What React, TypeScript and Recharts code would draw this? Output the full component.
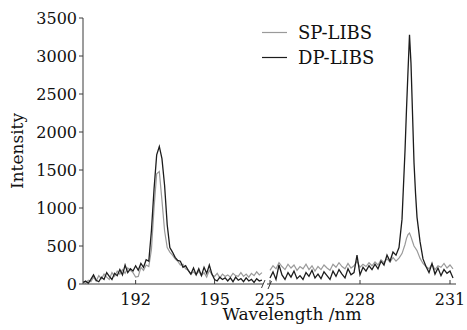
import { LineChart, Line, XAxis, YAxis, Legend, Label } from "recharts";

// left piece of the broken axis (nm)
const leftWavelengths = [
  190.0, 190.1, 190.2, 190.3, 190.4, 190.5, 190.6, 190.7, 190.8, 190.9,
  191.0, 191.1, 191.2, 191.3, 191.4, 191.5, 191.6, 191.7, 191.8, 191.9,
  192.0, 192.1, 192.2, 192.3, 192.4, 192.5, 192.6, 192.7, 192.8, 192.9,
  193.0, 193.1, 193.2, 193.3, 193.4, 193.5, 193.6, 193.7, 193.8, 193.9,
  194.0, 194.1, 194.2, 194.3, 194.4, 194.5, 194.6, 194.7, 194.8, 194.9,
  195.0, 195.1, 195.2, 195.3, 195.4, 195.5, 195.6, 195.7, 195.8, 195.9,
  196.0, 196.1, 196.2, 196.3, 196.4, 196.5, 196.6, 196.7, 196.8,
];
const leftSp = [
  30, 10, 50, 30, 90, 40, 110, 70, 130, 90,
  60, 150, 100, 170, 130, 190, 140, 210, 180, 150,
  90, 100, 220, 180, 250, 230, 450, 1000, 1450, 1480,
  1100, 700, 480, 420, 380, 330, 300, 250, 260, 200,
  180, 130, 160, 120, 170, 110, 150, 90, 180, 120,
  100, 140, 80, 130, 100, 120, 90, 140, 110, 100,
  150, 100, 130, 90, 140, 110, 160, 120, 150,
];
const leftDp = [
  20, 40, 10, 60, 120, 50, 30, 90, 60, 150,
  100, 60, 140, 110, 190, 120, 250, 150, 200, 170,
  240, 180, 270, 220, 320, 300, 700, 1250, 1700, 1810,
  1650, 1300, 780, 480, 420, 350, 310, 300, 220, 240,
  180, 130, 210, 120, 200, 110, 220, 140, 250, 130,
  60, 40, 90, 60, 80, 40, 80, 30, 90, 50,
  70, 30, 80, 40, 60, 20, 70, 40, 50,
];

// right piece of the broken axis (nm)
const rightWavelengths = [
  225.0, 225.1, 225.2, 225.3, 225.4, 225.5, 225.6, 225.7, 225.8, 225.9,
  226.0, 226.1, 226.2, 226.3, 226.4, 226.5, 226.6, 226.7, 226.8, 226.9,
  227.0, 227.1, 227.2, 227.3, 227.4, 227.5, 227.6, 227.7, 227.8, 227.9,
  228.0, 228.1, 228.2, 228.3, 228.4, 228.5, 228.6, 228.7, 228.8, 228.9,
  229.0, 229.1, 229.2, 229.3, 229.4, 229.5, 229.55, 229.6, 229.65, 229.7,
  229.75, 229.8, 229.85, 229.9, 230.0, 230.1, 230.2, 230.3, 230.4, 230.5,
  230.6, 230.7, 230.8, 230.9, 231.0, 231.1,
];
const rightSp = [
  180, 240, 200, 280, 230, 190, 260, 210, 250, 180,
  230, 200, 260, 190, 240, 170, 230, 190, 250, 210,
  180, 260, 220, 280, 230, 200, 270, 210, 240, 300,
  220, 260, 230, 280, 240, 290, 250, 320, 280, 330,
  290, 350, 300, 340, 400, 520, 600, 650, 670, 620,
  560, 500, 470, 440, 340, 270, 230, 200, 260, 190,
  240, 220, 270, 210, 250, 200,
];
const rightDp = [
  80, 160, 60, 250, 120, 60, 150, 90, 170, 70,
  110, 60, 150, 100, 180, 80, 130, 70, 160, 110,
  60, 170, 100, 190, 130, 80, 200, 120, 150, 380,
  120, 220, 170, 240, 190, 260, 200, 300, 250, 380,
  300, 420, 380, 480, 850, 1750, 2300, 2800, 3280, 2900,
  2250, 1600, 1200, 880, 560, 330, 230, 150, 270, 130,
  210, 110, 190, 140, 170, 80,
];

const leftTicks = [192, 195];
const rightTicks = [225, 228, 231];
const intensityTicks = [0, 500, 1000, 1500, 2000, 2500, 3000, 3500];
const legendOrder = ["SP-LIBS", "DP-LIBS"];

const FONT = '"DejaVu Serif", serif';
const SP_COLOR = "#9a9a9a";
const DP_COLOR = "#1c1c1c";
const AXIS = "#3a3a3a";
const TEXT = "#111";

const leftData = leftWavelengths.map((w, i) => ({ w, sp: leftSp[i], dp: leftDp[i] }));
const rightData = rightWavelengths.map((w, i) => ({ w, sp: rightSp[i], dp: rightDp[i] }));

const tickStyle = { fill: TEXT, fontSize: 16, fontFamily: FONT };

function IntensityLabel(props: any) {
  const vb = props.viewBox || {};
  const cx = 17;
  const cy = (vb.y ?? 18) + (vb.height ?? 266) / 2;
  return (
    <text
      x={cx}
      y={cy}
      transform={`rotate(-90 ${cx} ${cy})`}
      textAnchor="middle"
      dominantBaseline="central"
      fill={TEXT}
      fontSize={17}
      fontFamily={FONT}
    >
      Intensity
    </text>
  );
}

function LegendBox(props: any) {
  const items = [...(props.payload || [])].sort(
    (a: any, b: any) => legendOrder.indexOf(a.value) - legendOrder.indexOf(b.value)
  );
  return (
    <div>
      {items.map((it: any) => (
        <div key={it.value} style={{ display: "flex", alignItems: "center", height: 25 }}>
          <svg width={40} height={25}>
            <line x1={4} x2={29} y1={12.5} y2={12.5} stroke={it.color} strokeWidth={1.2} />
          </svg>
          <span style={{ fontFamily: FONT, fontSize: 18, color: TEXT, lineHeight: "25px" }}>{it.value}</span>
        </div>
      ))}
    </div>
  );
}

export default function App() {
  return (
    <div style={{ position: "absolute", left: 0, top: 0, width: 467, height: 330, background: "#fff" }}>
      <div style={{ position: "absolute", left: 0, top: 0 }}>
        <LineChart width={265} height={330} data={leftData} margin={{ top: 18, right: 2, bottom: 0, left: 0 }}>
          <XAxis
            dataKey="w"
            type="number"
            domain={[190, 196.84]}
            allowDataOverflow
            ticks={leftTicks}
            interval={0}
            height={46}
            stroke={AXIS}
            tickSize={-4}
            tickMargin={14}
            tick={tickStyle}
          />
          <YAxis
            type="number"
            domain={[0, 3500]}
            ticks={intensityTicks}
            interval={0}
            width={83}
            stroke={AXIS}
            tickSize={4}
            tickMargin={2}
            tick={tickStyle}
          >
            <Label content={IntensityLabel} />
          </YAxis>
          <Line dataKey="sp" name="SP-LIBS" stroke={SP_COLOR} strokeWidth={1.2} dot={false} isAnimationActive={false} />
          <Line dataKey="dp" name="DP-LIBS" stroke={DP_COLOR} strokeWidth={1.3} dot={false} isAnimationActive={false} />
        </LineChart>
      </div>
      <div style={{ position: "absolute", left: 238, top: 0 }}>
        <LineChart width={229} height={330} data={rightData} margin={{ top: 18, right: 11, bottom: 0, left: 29 }}>
          <XAxis
            dataKey="w"
            type="number"
            domain={[224.9, 231.2]}
            allowDataOverflow
            ticks={rightTicks}
            interval={0}
            height={46}
            stroke={AXIS}
            tickSize={-4}
            tickMargin={14}
            tick={tickStyle}
          />
          <YAxis hide type="number" domain={[0, 3500]} />
          <Legend
            layout="vertical"
            align="center"
            verticalAlign="middle"
            content={LegendBox}
            wrapperStyle={{ left: 20, top: 20, width: 130 }}
          />
          <Line dataKey="sp" name="SP-LIBS" stroke={SP_COLOR} strokeWidth={1.2} dot={false} isAnimationActive={false} />
          <Line dataKey="dp" name="DP-LIBS" stroke={DP_COLOR} strokeWidth={1.3} dot={false} isAnimationActive={false} />
          <g stroke={AXIS} strokeWidth={1}>
            <line x1={23.5} y1={288} x2={27} y2={280} />
            <line x1={30} y1={289} x2={33.5} y2={281} />
          </g>
        </LineChart>
      </div>
      <div
        style={{
          position: "absolute",
          left: 212,
          top: 304,
          width: 160,
          textAlign: "center",
          fontFamily: FONT,
          fontSize: 17,
          lineHeight: "20px",
          color: TEXT,
        }}
      >
        Wavelength /nm
      </div>
    </div>
  );
}
